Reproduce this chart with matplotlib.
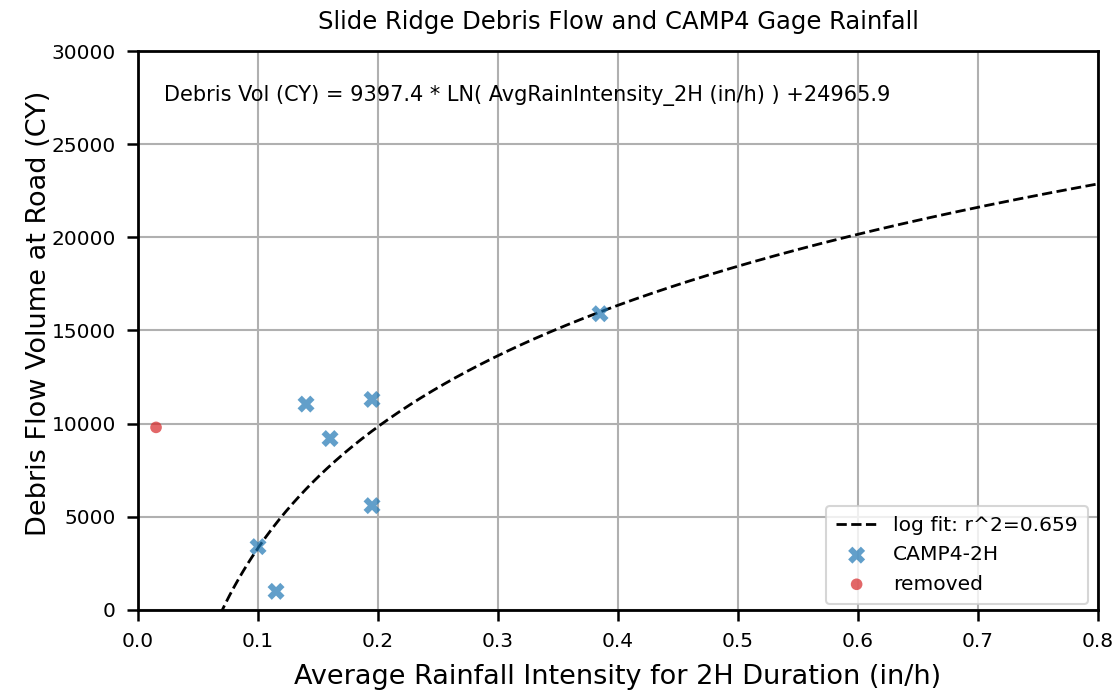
import numpy as np
import matplotlib
matplotlib.use("Agg")
import matplotlib.pyplot as plt

# Observed events (CAMP4 gage, 2-hour average intensity)
intensity_2h = [0.385, 0.14, 0.195, 0.16, 0.195, 0.10, 0.115]
debris_volume = [15900, 11050, 11300, 9200, 5600, 3400, 1000]

# Event excluded from the fit
removed_intensity = [0.015]
removed_volume = [9800]

# Log fit coefficients
fit_a = 9397.4
fit_b = 24965.9
fit_r2 = 0.659

fig = plt.figure(figsize=(11.16, 6.96), dpi=100)
ax = fig.add_axes([0.1237, 0.1236, 0.8602, 0.8031])

xs = np.linspace(0.05, 0.8, 400)
ax.plot(xs, fit_a * np.log(xs) + fit_b, "k--", lw=2,
        label=f"log fit: r^2={fit_r2}", zorder=3)
ax.scatter(intensity_2h, debris_volume, marker="X", s=150, color="#1f77b4",
           alpha=0.7, edgecolors="none", label="CAMP4-2H", zorder=4)
ax.scatter(removed_intensity, removed_volume, marker="o", s=70, color="#d62728",
           alpha=0.7, edgecolors="none", label="removed", zorder=4)

ax.text(0.022, 27600,
        f"Debris Vol (CY) = {fit_a} * LN( AvgRainIntensity_2H (in/h) ) +{fit_b}",
        fontsize=15, va="center", ha="left")

ax.set_xlim(0, 0.8)
ax.set_ylim(0, 30000)
ax.set_xticks(np.arange(0, 0.81, 0.1))
ax.set_yticks(np.arange(0, 30001, 5000))
ax.grid(True, color="#b0b0b0", lw=1.5)
ax.set_axisbelow(True)
for s in ax.spines.values():
    s.set_linewidth(2)
ax.tick_params(labelsize=14.5, width=1.8, length=8, pad=8)

ax.set_title("Slide Ridge Debris Flow and CAMP4 Gage Rainfall", fontsize=17.5, pad=16)
ax.set_xlabel("Average Rainfall Intensity for 2H Duration (in/h)", fontsize=19.5, labelpad=9)
ax.set_ylabel("Debris Flow Volume at Road (CY)", fontsize=19.5, labelpad=12)
ax.yaxis.set_label_coords(-0.09, 0.53)

leg = ax.legend(loc="lower right", bbox_to_anchor=(1.0, -0.007), fontsize=14.6,
                framealpha=0.8, borderpad=0.5)
leg.get_frame().set_linewidth(1.5)

fig.savefig("out.png", dpi=100)
